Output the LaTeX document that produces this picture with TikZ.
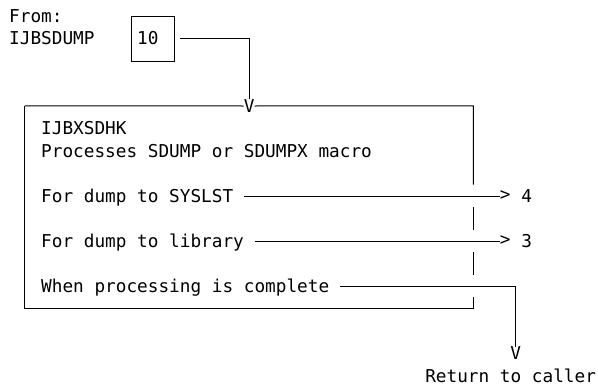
\documentclass[tikz,border=0pt]{standalone}
\usepackage{fontspec}
\newfontfamily\monofam{DejaVu Sans Mono}
\usetikzlibrary{calc}
\begin{document}
\begin{tikzpicture}[x=1pt,y=-1pt,
  txt/.style={anchor=base west, inner sep=0pt, font=\monofam\fontsize{17.72}{20}\selectfont},
  glyph/.style={anchor=center, inner sep=0pt, font=\monofam\fontsize{17.72}{20}\selectfont},
  ln/.style={line width=1pt, draw=black}]
\useasboundingbox (0,0) rectangle (598,391);
% texts
\node[txt] (from) at (9,22.45) {From:};
\node[txt] (caller) at (9,44.95) {IJBSDUMP};
\node[ln, draw, minimum width=42.7pt, minimum height=45pt, inner sep=0pt] (b10) at (153.05,38.5) {};
\node[txt] (t10) at (137.04,44.95) {10};
\node[glyph] (v1) at (249.1,106) {V};
\node[inner sep=0pt, minimum width=448.1pt, minimum height=202.5pt] (main) at (249.05,207.25) {};
\node[txt] (name) at (41.01,134.95) {IJBXSDHK};
\node[txt] (desc) at (41.01,157.45) {Processes SDUMP or SDUMPX macro};
\node[txt] (sys) at (41.01,202.45) {For dump to SYSLST};
\node[txt] (lib) at (41.01,247.45) {For dump to library};
\node[txt] (done) at (41.01,292.45) {When processing is complete};
\node[glyph] (gt4) at (505.1,196) {>};
\node[glyph] (gt3) at (505.1,241) {>};
\node[txt] (n4) at (521.2,202.45) {4};
\node[txt] (n3) at (521.2,247.45) {3};
\node[glyph] (v2) at (515.8,353.5) {V};
\node[txt] (ret) at (425.1,382.45) {Return to caller};
% connectors
\coordinate (s10) at ($(b10.east)+(5.3,0)$);
\draw[ln] (s10) -| (v1.north);
\draw[ln] (main.north west) -- (v1.west);
\draw[ln] (v1.east) -- (main.north east) -- ++(0,78.75);
\draw[ln] (main.north west) -- (main.south west) -- (main.south east) -- ++(0,-11.25);
\draw[ln] ($(main.north east)+(0,101.25)$) -- ++(0,22.5);
\draw[ln] ($(main.north east)+(0,146.25)$) -- ++(0,22.5);
\draw[ln] ($(sys.base east)+(10.67,-6.45)$) -- (gt4.west);
\draw[ln] ($(lib.base east)+(10.67,-6.45)$) -- (gt3.west);
\draw[ln] ($(done.base east)+(10.67,-6.45)$) -| (v2.north);
\end{tikzpicture}
\end{document}
